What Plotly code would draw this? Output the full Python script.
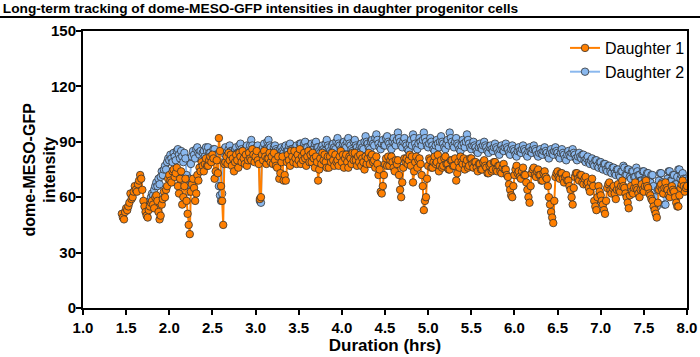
import numpy as np
import plotly.graph_objects as go

# ---- data ----
title_text = "Long-term tracking of dome-MESO-GFP intensities in daughter progenitor cells"
series_names = ["Daughter 1", "Daughter 2"]
x_title = "Duration (hrs)"
y_title = "dome-MESO-GFP<br>intensity"

d1_start = 1.45      # hrs
d2_start = 1.75      # hrs
sample_step = 0.0125 # hrs

# Daughter 1 intensities (one row = 0.1 hrs)
d1_values = [
    51, 49, 48, 52, 54, 53, 55, 57,
    62, 59, 60, 63, 66, 64, 63, 67,
    69, 72, 70, 64, 58, 55, 52, 50,
    49, 53, 55, 57, 58, 56, 54, 60,
    61, 58, 52, 48, 50, 56, 59, 63,
    60, 64, 66, 70, 72, 69, 68, 74,
    75, 71, 73, 76, 66, 62, 70, 74,
    56, 60, 66, 70, 58, 51, 45, 40,
    63, 67, 70, 65, 58, 62, 72, 69,
    76, 74, 79, 77, 74, 78, 81, 77,
    77, 80, 82, 79, 83, 81, 70, 74,
    80, 73, 92, 85, 66, 58, 45, 78,
    79, 82, 78, 84, 80, 83, 77, 81,
    74, 79, 83, 80, 76, 84, 82, 79,
    85, 81, 78, 83, 77, 80, 84, 81,
    80, 86, 83, 79, 82, 85, 80, 78,
    59, 60, 83, 80, 85, 82, 78, 81,
    81, 84, 79, 82, 78, 84, 80, 77,
    76, 82, 70, 73, 79, 82, 69, 72,
    69, 79, 83, 80, 77, 85, 82, 79,
    85, 81, 78, 83, 80, 86, 78, 82,
    80, 84, 81, 77, 82, 85, 79, 83,
    79, 84, 81, 76, 82, 79, 69, 75,
    81, 78, 84, 80, 83, 79, 76, 82,
    76, 82, 79, 84, 80, 77, 83, 79,
    80, 77, 82, 85, 79, 83, 76, 81,
    83, 79, 76, 82, 81, 78, 84, 80,
    84, 80, 77, 82, 79, 83, 77, 81,
    79, 75, 82, 78, 81, 84, 78, 82,
    83, 79, 80, 76, 82, 78, 72, 75,
    63, 62, 66, 72, 78, 81, 77, 82,
    77, 80, 82, 79, 76, 74, 80, 78,
    80, 72, 64, 60, 68, 76, 81, 79,
    81, 78, 80, 83, 77, 82, 68, 74,
    79, 82, 76, 80, 81, 78, 72, 66,
    53, 58, 60, 70, 77, 81, 80, 76,
    76, 79, 82, 78, 79, 83, 74, 77,
    80, 76, 77, 81, 82, 78, 78, 75,
    75, 80, 80, 77, 77, 81, 69, 73,
    79, 76, 82, 79, 78, 81, 75, 78,
    80, 76, 77, 81, 81, 78, 76, 79,
    79, 76, 74, 78, 78, 75, 75, 79,
    80, 77, 76, 73, 73, 77, 78, 74,
    75, 79, 79, 75, 74, 77, 77, 74,
    73, 76, 78, 75, 75, 72, 71, 67,
    64, 61, 60, 66, 72, 75, 77, 73,
    74, 71, 70, 74, 76, 72, 72, 68,
    64, 60, 57, 66, 73, 75, 76, 72,
    71, 74, 75, 72, 72, 69, 69, 73,
    74, 71, 70, 66, 60, 56, 52, 49,
    46, 58, 71, 73, 74, 71, 70, 73,
    73, 70, 68, 71, 72, 69, 69, 66,
    64, 60, 56, 65, 71, 73, 73, 70,
    69, 72, 72, 68, 67, 70, 71, 67,
    68, 65, 63, 68, 70, 66, 58, 55,
    53, 60, 66, 63, 61, 58, 56, 53,
    51, 58, 65, 67, 68, 64, 62, 65,
    66, 62, 59, 64, 67, 64, 63, 66,
    69, 66, 65, 62, 60, 57, 54, 61,
    66, 63, 62, 65, 68, 65, 64, 62,
    60, 64, 67, 64, 63, 66, 69, 66,
    65, 62, 61, 59, 58, 55, 53, 51,
    49, 57, 64, 66, 67, 64, 62, 65,
    68, 65, 64, 61, 60, 63, 66, 64,
    63, 60, 57, 55, 55, 61, 65, 67,
    69, 66, 63, 65, 66,
]

# Daughter 2 intensities (one row = 0.1 hrs)
d2_values = [
    55, 57, 58, 60, 62, 61, 64, 66,
    68, 66, 70, 67, 71, 74, 72, 75,
    77, 75, 79, 81, 80, 83, 81, 79,
    84, 82, 80, 85, 86, 83, 81, 85,
    82, 79, 84, 81, 72, 66, 63, 70,
    78, 82, 85, 83, 81, 86, 87, 84,
    83, 85, 80, 84, 85, 82, 87, 85,
    87, 84, 84, 81, 82, 86, 86, 83,
    83, 80, 66, 61, 58, 62, 84, 86,
    87, 84, 83, 86, 88, 85, 85, 82,
    82, 86, 87, 84, 84, 88, 89, 86,
    85, 83, 82, 87, 88, 85, 84, 88,
    91, 88, 86, 83, 83, 87, 88, 85,
    58, 57, 85, 87, 89, 86, 86, 90,
    91, 88, 87, 84, 84, 87, 88, 86,
    85, 82, 82, 86, 87, 85, 84, 87,
    88, 85, 85, 88, 89, 86, 86, 84,
    83, 87, 88, 85, 85, 89, 89, 86,
    86, 89, 90, 87, 87, 85, 84, 88,
    89, 86, 86, 89, 90, 87, 87, 85,
    84, 87, 88, 86, 85, 89, 91, 88,
    87, 85, 84, 88, 89, 87, 86, 90,
    92, 89, 88, 86, 85, 89, 90, 88,
    87, 90, 92, 89, 88, 86, 85, 90,
    91, 88, 87, 85, 84, 88, 89, 87,
    86, 90, 93, 90, 89, 87, 86, 90,
    91, 89, 88, 92, 94, 91, 89, 87,
    86, 89, 91, 88, 88, 92, 93, 90,
    89, 87, 86, 90, 92, 89, 88, 91,
    95, 92, 90, 88, 87, 90, 92, 89,
    88, 86, 85, 89, 91, 88, 94, 92,
    89, 87, 86, 89, 92, 90, 88, 91,
    95, 92, 90, 88, 87, 89, 92, 90,
    88, 86, 85, 88, 91, 89, 87, 90,
    93, 90, 89, 87, 86, 89, 91, 88,
    95, 92, 90, 88, 87, 90, 92, 89,
    88, 86, 85, 88, 91, 89, 87, 90,
    94, 91, 89, 87, 86, 88, 90, 88,
    87, 85, 84, 87, 89, 87, 86, 88,
    90, 88, 87, 85, 84, 87, 88, 86,
    85, 87, 89, 87, 86, 84, 83, 86,
    88, 86, 85, 87, 89, 87, 86, 84,
    83, 86, 88, 86, 85, 83, 82, 85,
    87, 85, 84, 86, 88, 86, 85, 83,
    82, 85, 87, 85, 84, 86, 88, 86,
    85, 83, 82, 84, 86, 84, 83, 85,
    87, 85, 84, 82, 81, 84, 86, 84,
    83, 85, 87, 85, 84, 82, 81, 84,
    86, 84, 83, 81, 80, 83, 85, 83,
    82, 84, 86, 84, 83, 81, 80, 82,
    84, 82, 81, 83, 83, 80, 79, 81,
    82, 79, 78, 80, 81, 78, 77, 80,
    80, 77, 76, 79, 79, 76, 75, 78,
    78, 75, 74, 77, 77, 74, 73, 76,
    76, 73, 72, 75, 75, 72, 71, 74,
    74, 77, 76, 72, 72, 75, 75, 71,
    70, 74, 74, 71, 71, 76, 74, 72,
    72, 69, 69, 74, 74, 70, 70, 73,
    73, 68, 68, 72, 72, 66, 60, 55,
    55, 64, 69, 73, 73, 68, 62, 56,
    56, 66, 70, 74, 74, 69, 69, 72,
    72, 67, 67, 71, 75, 75, 70, 72,
    73, 70, 68, 70, 69,
]

x_ticks = [1.0, 1.5, 2.0, 2.5, 3.0, 3.5, 4.0, 4.5, 5.0, 5.5, 6.0, 6.5, 7.0, 7.5, 8.0]
y_ticks = [0, 30, 60, 90, 120, 150]

d1_time = d1_start + sample_step * np.arange(len(d1_values))
d2_time = d2_start + sample_step * np.arange(len(d2_values))

# ---- style ----
ORANGE = "#FF7F00"
BLUE = "#8AB8EE"
EDGE = "#333333"
BASE_FONT = "Liberation Sans, Arial, sans-serif"

W, H = 700, 357
ML, MR, MT, MB = 83, 13, 31, 49
PW, PH = W - ML - MR, H - MT - MB

fig = go.Figure()

fig.add_trace(go.Scatter(
    x=d2_time, y=d2_values, name=series_names[1], mode="lines+markers",
    line=dict(color=BLUE, width=2),
    marker=dict(size=7.5, color=BLUE, line=dict(color=EDGE, width=0.8)),
))
fig.add_trace(go.Scatter(
    x=d1_time, y=d1_values, name=series_names[0], mode="lines+markers",
    line=dict(color=ORANGE, width=2),
    marker=dict(size=7.5, color=ORANGE, line=dict(color=EDGE, width=0.8)),
))

axis_common = dict(
    showline=True, linecolor="black", linewidth=2, mirror=True,
    ticks="outside", ticklen=5, tickwidth=2, tickcolor="black",
    showgrid=False, zeroline=False, automargin=False,
    tickfont=dict(family=BASE_FONT, size=15, color="black", weight="bold"),
)

fig.update_xaxes(
    range=[1.0, 8.0], tickvals=x_ticks, ticktext=[f"{v:.1f}" for v in x_ticks],
    title=dict(text=x_title, standoff=4,
               font=dict(family=BASE_FONT, size=17, color="black", weight="bold")),
    **axis_common,
)
fig.update_yaxes(
    range=[0, 150], tickvals=y_ticks, ticklabelstandoff=-3,
    **axis_common,
)

fig.update_layout(
    width=W, height=H,
    margin=dict(l=ML, r=MR, t=MT, b=MB, autoexpand=False),
    paper_bgcolor="white", plot_bgcolor="white",
    showlegend=True,
    legend=dict(
        x=1.005, xanchor="right", y=1.0, yanchor="top",
        traceorder="reversed", bgcolor="rgba(0,0,0,0)",
        font=dict(family=BASE_FONT, size=16, color="black"),
        itemwidth=30,
    ),
    title=dict(
        text=title_text, x=0.004, xref="container", xanchor="left",
        y=1 - 8 / H, yref="container", yanchor="middle",
        font=dict(family=BASE_FONT, size=13.7, color="black", weight="bold"),
        pad=dict(t=0, b=0, l=0),
    ),
    annotations=[dict(
        text=y_title, textangle=-90, xref="paper", yref="paper",
        x=(39 - ML) / PW, y=0.5, xanchor="center", yanchor="middle",
        showarrow=False,
        font=dict(family=BASE_FONT, size=16, color="black", weight="bold"),
    )],
    shapes=[dict(
        type="line", xref="paper", yref="paper",
        x0=-ML / PW, x1=1 + MR / PW, y0=(H - MB - 17) / PH, y1=(H - MB - 17) / PH,
        line=dict(color="black", width=2),
    )],
)

fig.write_html(
    "out.html",
    config={"displayModeBar": False},
    post_script="document.body.style.margin='0';document.body.style.overflow='hidden';",
)
